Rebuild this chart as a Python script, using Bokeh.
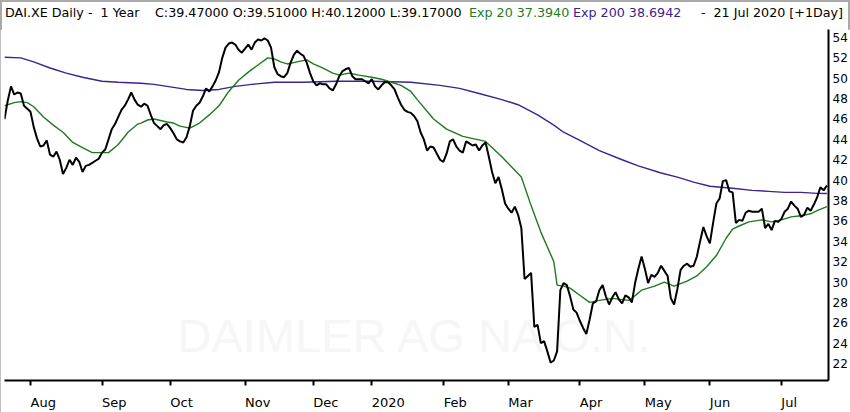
from bokeh.plotting import figure
from bokeh.models import Range1d, FixedTicker, Label, LinearAxis, Div
from bokeh.layouts import column
from bokeh.embed import file_html
from bokeh.resources import INLINE

# ---- data ----
# trading-session index 0 = 22 Jul 2019 ... 253 = 21 Jul 2020
close = [
    46.0, 47.8, 49.2, 48.4, 48.6, 48.5, 47.3, 47.0, 46.7, 45.2,
    44.1, 43.3, 43.4, 43.9, 42.5, 42.3, 42.8, 42.0, 40.6, 41.2,
    42.0, 41.5, 42.2, 41.8, 40.8, 41.4, 41.5, 41.7, 41.9, 42.1,
    42.7, 43.0, 44.0, 45.0, 45.5, 46.2, 46.9, 47.3, 47.9, 48.6,
    47.9, 47.4, 47.2, 47.5, 47.3, 46.4, 45.6, 45.3, 45.0, 45.4,
    45.5, 45.1, 44.6, 44.0, 43.8, 43.7, 44.2, 45.3, 46.8, 47.3,
    47.6, 48.2, 49.0, 48.7, 49.2, 49.8, 50.6, 52.0, 53.0, 53.4,
    53.5, 53.3, 52.8, 52.5, 52.9, 53.3, 52.8, 53.5, 53.8, 53.7,
    53.9, 53.7, 53.0, 51.1, 50.4, 50.2, 50.1, 50.5, 51.5, 52.3,
    52.7, 52.4, 52.2, 51.5, 50.5, 49.7, 49.3, 49.5, 49.4, 49.4,
    49.0, 48.8, 49.4, 50.2, 50.7, 50.9, 51.0, 50.2, 49.9, 49.9,
    49.9, 49.7, 49.5, 49.9, 49.2, 48.9, 49.3, 49.6, 49.6, 49.3,
    48.9, 48.1, 47.4, 46.9, 46.7, 46.6, 46.3, 45.8, 44.7, 44.0,
    42.9, 43.3, 43.2, 42.6, 42.0, 41.8, 42.6, 43.8, 44.0, 43.3,
    42.9, 42.7, 43.8, 43.6, 43.4, 43.5, 42.9, 43.4, 43.7, 42.3,
    40.8, 39.7, 40.3, 39.1, 37.7, 37.2, 36.8, 37.4, 36.6, 35.3,
    30.3, 30.6, 30.9, 25.6, 25.8, 24.0, 24.2, 23.2, 22.1, 22.3,
    23.2, 29.2, 29.9, 29.7, 28.6, 27.3, 27.0, 26.2, 25.5, 24.9,
    26.3, 27.9, 28.1, 29.2, 29.7, 28.6, 27.8, 28.5, 29.0, 28.3,
    27.9, 28.7, 28.5, 28.0, 29.9, 31.3, 32.5, 31.3, 29.9, 30.7,
    30.5, 30.9, 31.6, 31.1, 30.6, 28.4, 27.8, 29.3, 31.2, 31.6,
    31.8, 31.5, 31.6, 32.5, 34.0, 35.4, 34.5, 33.8, 35.8, 37.7,
    38.2, 39.9, 40.0, 38.9, 38.8, 35.8, 36.1, 36.0, 36.8, 37.0,
    36.9, 36.9, 36.9, 37.2, 35.3, 35.7, 35.1, 36.0, 35.9, 36.2,
    36.9, 37.2, 37.9, 37.5, 37.2, 36.4, 36.6, 37.3, 37.0, 37.6,
    38.3, 39.3, 39.0, 39.47,
]
session = list(range(len(close)))

ema20_session = [0, 3, 5, 7, 9, 12, 15, 18, 21, 24, 27, 30, 32, 35, 38, 41, 42, 44, 46,
                 50, 52, 54, 57, 60, 63, 66, 69, 72, 75, 78, 81, 83, 85, 87, 90, 93, 95,
                 98, 101, 103, 106, 109, 113, 116, 119, 122, 125, 127, 132, 136, 141, 148,
                 153, 159, 162, 165, 169, 170, 172, 174, 177, 180, 183, 187, 192, 193, 196,
                 200, 203, 206, 210, 213, 216, 219, 222, 224, 226, 229, 233, 236, 239, 242,
                 245, 248, 250, 253]
ema20 = [47.3, 47.6, 47.7, 47.6, 47.2, 46.2, 45.4, 44.7, 43.7, 43.2, 42.7, 42.7, 42.7,
         43.5, 44.7, 45.5, 45.6, 45.9, 46.0, 45.7, 45.6, 45.3, 45.1, 45.6, 46.4, 47.3,
         48.7, 49.8, 50.6, 51.3, 52.0, 51.9, 51.6, 51.4, 51.6, 51.8, 51.4, 51.0, 50.5,
         50.3, 50.5, 50.3, 50.1, 49.9, 49.6, 49.3, 48.7, 47.9, 46.0, 45.0, 44.3, 43.8,
         42.3, 40.3, 37.5, 34.9, 32.0, 29.7, 29.6, 29.4, 28.7, 28.0, 28.2, 28.4, 28.2,
         28.4, 29.2, 29.6, 30.0, 29.6, 30.1, 30.6, 31.5, 32.6, 34.3, 35.2, 35.5, 35.9,
         36.1, 35.9, 36.1, 36.4, 36.5, 36.7, 37.0, 37.394]

ema200_session = [0, 5, 9, 14, 19, 24, 30, 35, 42, 46, 50, 56, 61, 66, 71, 76, 83, 92,
                  102, 113, 125, 134, 140, 146, 153, 158, 164, 169, 172, 177, 183, 190,
                  195, 202, 207, 212, 217, 224, 230, 235, 240, 245, 250, 253]
ema200 = [52.05, 52.0, 51.6, 51.0, 50.5, 50.1, 49.7, 49.6, 49.5, 49.4, 49.2, 48.9, 48.8,
          48.9, 49.2, 49.4, 49.6, 49.6, 49.7, 49.7, 49.6, 49.3, 49.0, 48.5, 47.9, 47.4,
          46.4, 45.4, 44.7, 43.9, 42.9, 42.0, 41.4, 40.7, 40.3, 39.8, 39.4, 39.2, 39.0,
          38.9, 38.8, 38.8, 38.7, 38.6942]

month_session = [8, 30, 51, 74, 95, 113, 135, 155, 177, 197, 217, 239]
month_labels = ["Aug", "Sep", "Oct", "Nov", "Dec", "2020", "Feb", "Mar", "Apr", "May", "Jun", "Jul"]
price_ticks = [22, 24, 26, 28, 30, 32, 34, 36, 38, 40, 42, 44, 46, 48, 50, 52, 54]

header_main = "DAI.XE Daily -  1 Year"
header_ohlc = "C:39.47000 O:39.51000 H:40.12000 L:39.17000"
header_ema20 = "Exp 20 37.3940"
header_ema200 = "Exp 200 38.6942"
header_date = "21 Jul 2020 [+1Day]"
watermark = "DAIMLER AG NA O.N."

FONT = "DejaVu Sans"
GREEN = "#1f7a1f"
PURPLE = "#3d2290"

FIG_W = 850
HEAD_H = 29
FIG_H = 412 - HEAD_H
LEFT_B, RIGHT_B, BOTTOM_B = 4, 22, 29
X0, X1 = 0, 253.5

# ---- header line (multi-coloured) ----
def span(txt, col, pos):
    return ('<span style="position:absolute;top:5px;%s;color:%s;">%s</span>' % (pos, col, txt))

header_html = (
    '<div style="position:relative;width:%dpx;height:%dpx;font-family:\'DejaVu Sans\';'
    'font-size:12.7px;line-height:15px;white-space:pre;">' % (FIG_W, HEAD_H)
    + span(header_main, "black", "left:5px")
    + span(header_ohlc, "black", "left:155px")
    + span(header_ema20, GREEN, "left:469px")
    + span(header_ema200, PURPLE, "left:573px")
    + span("-", "black", "left:701px")
    + span(header_date, "black", "right:7px")
    + '</div>'
)
header = Div(text=header_html, width=FIG_W, height=HEAD_H, margin=0)

p = figure(width=FIG_W, height=FIG_H, output_backend="svg", toolbar_location=None,
           x_range=Range1d(X0, X1), y_range=Range1d(20.34, 54.78),
           x_axis_location=None, y_axis_location="right",
           min_border_left=LEFT_B, min_border_right=RIGHT_B, min_border_top=0,
           min_border_bottom=BOTTOM_B, margin=0)
p.background_fill_color = "white"
p.border_fill_color = "white"
p.outline_line_color = None
p.xgrid.visible = False
p.ygrid.visible = False

# watermark
p.add_layout(Label(x=412, y=45, x_units="screen", y_units="screen", text=watermark,
                   text_font="Liberation Sans", text_font_size="47px", text_color="#f6f6f6",
                   text_align="center", text_baseline="middle", level="underlay"))

p.line(ema200_session, ema200, line_color=PURPLE, line_width=1.4)
p.line(ema20_session, ema20, line_color=GREEN, line_width=1.4)
p.line(session, close, line_color="black", line_width=2)

# right price axis
ya = p.yaxis[0]
ya.ticker = FixedTicker(ticks=price_ticks)
ya.major_label_text_font = FONT
ya.major_label_text_font_size = "12px"
ya.major_label_text_color = "black"
ya.major_label_standoff = 4
ya.major_tick_out = 0
ya.major_tick_in = 0
ya.minor_tick_out = 0
ya.minor_tick_in = 0
ya.axis_line_width = 2
ya.axis_line_color = "black"

# bottom time axis: tick marks at month starts (minor ticks), labels left-aligned at the tick
ADV = {"A": .684, "u": .634, "g": .635, "S": .635, "e": .615, "p": .635, "O": .787,
       "c": .550, "t": .392, "N": .748, "o": .612, "v": .592, "D": .770, "2": .636,
       "0": .636, "F": .575, "b": .635, "M": .863, "a": .613, "r": .411, "y": .592,
       "J": .295, "n": .634, "l": .278}
LABEL_PX = 13
px_per_session = (FIG_W - LEFT_B - RIGHT_B) / (X1 - X0)
label_pos = [round(m + sum(ADV.get(ch, .6) for ch in lbl) * LABEL_PX / 2 / px_per_session, 3)
             for m, lbl in zip(month_session, month_labels)]
xa = LinearAxis(ticker=FixedTicker(ticks=label_pos, minor_ticks=month_session),
                major_label_overrides={pos: lbl for pos, lbl in zip(label_pos, month_labels)},
                major_label_text_font=FONT, major_label_text_font_size="%dpx" % LABEL_PX,
                major_label_text_color="black", major_label_standoff=9,
                major_tick_out=0, major_tick_in=0, major_tick_line_color=None,
                minor_tick_out=5, minor_tick_in=0, minor_tick_line_width=2,
                minor_tick_line_color="black",
                axis_line_width=2, axis_line_color="black")
p.add_layout(xa, "below")

layout = column(header, p, spacing=0, margin=0,
                styles={"outline": "2px solid #a9a9a9", "outline-offset": "-2px"})
open("out.html", "w").write(file_html(layout, INLINE))
